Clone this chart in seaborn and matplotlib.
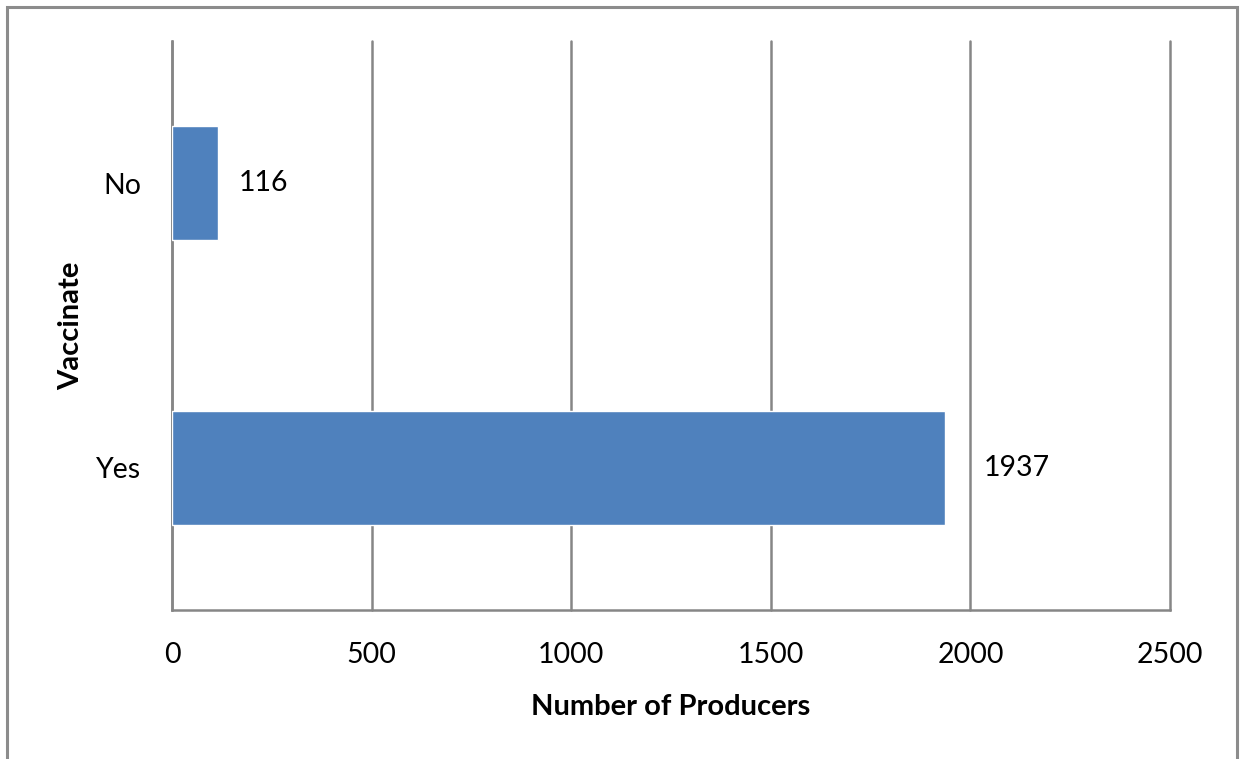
import matplotlib
matplotlib.use("Agg")
import matplotlib.pyplot as plt
import seaborn as sns
import pandas as pd
from matplotlib.patches import Rectangle

categories = ["No", "Yes"]
values = [116, 1937]
xticks = [0, 500, 1000, 1500, 2000, 2500]

# style: horizontal gap (points) between bar end and its value label
label_gap_pt = [15, 28]

sns.set_theme(style="white")
plt.rcParams['font.family'] = ['Lato', 'DejaVu Sans']

df = pd.DataFrame({"Vaccinate": categories, "Producers": values})

fig = plt.figure(figsize=(12.41, 7.59), dpi=100)
ax = fig.add_axes([172/1241, 1-610/759, (1170-172)/1241, (610-41)/759])

sns.barplot(data=df, x="Producers", y="Vaccinate", order=categories, orient="h",
            color="#4F81BD", saturation=1, width=0.4, ax=ax, zorder=3)

ax.set_xlim(0, 2500)
ax.set_ylim(1.5, -0.5)
ax.set_xticks(xticks)
ax.set_xticklabels([str(t) for t in xticks], fontsize=20.5)
ax.tick_params(axis='x', length=7, width=1.8, color="#868686", pad=16, labelcolor="black")
ax.tick_params(axis='y', length=0, pad=22, labelsize=20.5, labelcolor="black")
ax.grid(axis='x', color="#868686", linewidth=1.8, zorder=0)
for gl in ax.get_xgridlines():
    gl.set_clip_on(False)
ax.set_axisbelow(True)
for s in ["top", "right"]:
    ax.spines[s].set_visible(False)
for s in ["left", "bottom"]:
    ax.spines[s].set_color("#868686")
    ax.spines[s].set_linewidth(1.8)

for i, v in enumerate(values):
    ax.annotate(str(v), xy=(v, i), xytext=(label_gap_pt[i], 0), textcoords="offset points",
                va="center", ha="left", fontsize=20.5, color="black")

ax.set_xlabel("Number of Producers", fontsize=21, fontweight="bold", labelpad=19, color="black")
ax.set_ylabel("Vaccinate", fontsize=21, fontweight="bold", labelpad=9, color="black")

fig.patches.append(Rectangle((7/1241, -0.05), (1237-7)/1241, 1-7/759+0.05,
                             transform=fig.transFigure, fill=False,
                             edgecolor="#8c8c8c", linewidth=2.2))

fig.savefig("out.png", dpi=100)
